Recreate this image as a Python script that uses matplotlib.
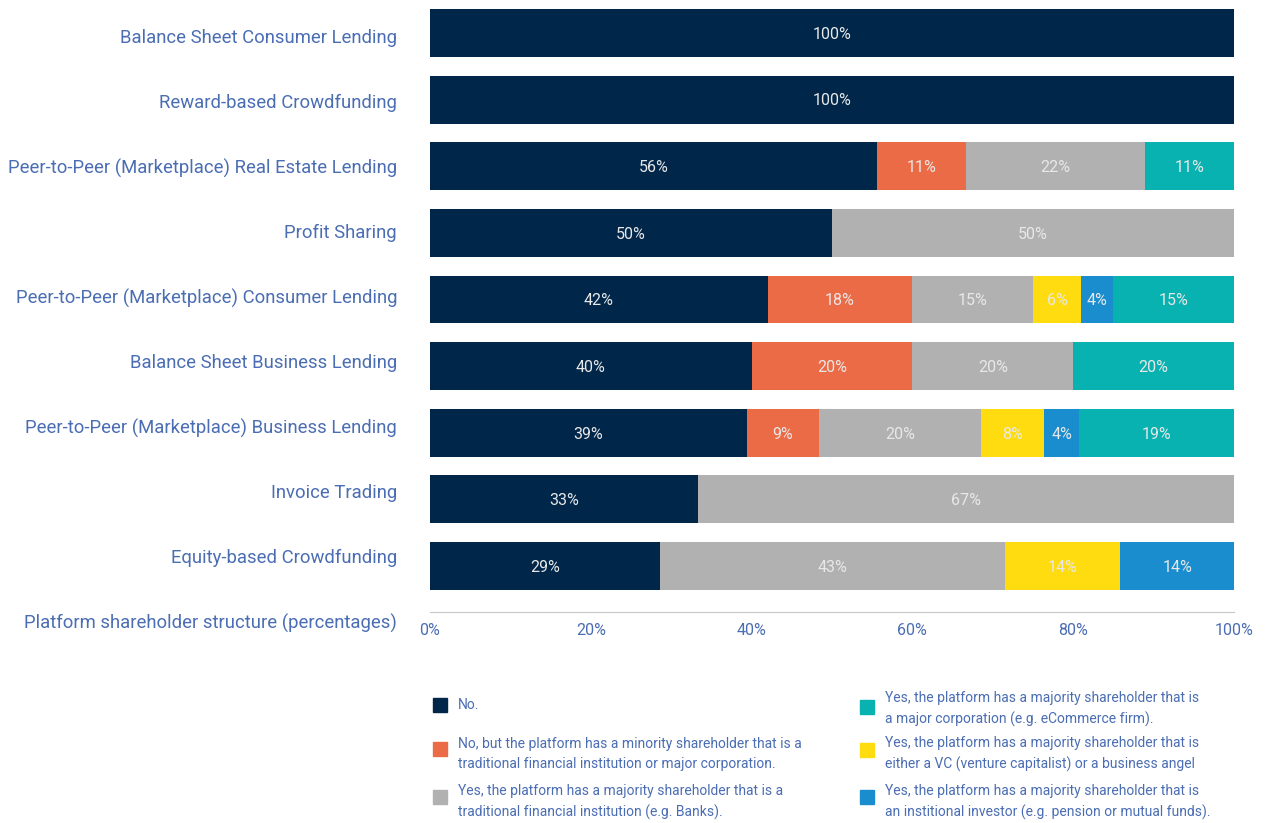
import matplotlib
matplotlib.use("Agg")
import matplotlib.pyplot as plt
from matplotlib.patches import Rectangle
import numpy as np

TXT = "#4a6db3"
COLORS = ["#00264a", "#ec6b47", "#b1b1b1", "#ffdc0f", "#1a8dcf", "#08b2b0"]

categories = [
    "Balance Sheet Consumer Lending",
    "Reward-based Crowdfunding",
    "Peer-to-Peer (Marketplace) Real Estate Lending",
    "Profit Sharing",
    "Peer-to-Peer (Marketplace) Consumer Lending",
    "Balance Sheet Business Lending",
    "Peer-to-Peer (Marketplace) Business Lending",
    "Invoice Trading",
    "Equity-based Crowdfunding",
]

# shares per category, one list per answer
no_share       = [100, 100, 55.6, 50, 42, 40, 39.4, 33.3, 28.6]
minority       = [0, 0, 11.1, 0, 18, 20, 9.0, 0, 0]
major_fin      = [0, 0, 22.2, 50, 15, 20, 20.1, 66.7, 42.9]
vc_angel       = [0, 0, 0, 0, 6, 0, 7.9, 0, 14.3]
institutional  = [0, 0, 0, 0, 4, 0, 4.3, 0, 14.3]
major_corp     = [0, 0, 11.1, 0, 15, 20, 19.3, 0, 0]

series = [no_share, minority, major_fin, vc_angel, institutional, major_corp]

legend_labels = [
    "No.",
    "No, but the platform has a minority shareholder that is a\ntraditional financial institution or major corporation.",
    "Yes, the platform has a majority shareholder that is a\ntraditional financial institution (e.g. Banks).",
    "Yes, the platform has a majority shareholder that is\neither a VC (venture capitalist) or a business angel",
    "Yes, the platform has a majority shareholder that is\nan institional investor (e.g. pension or mutual funds).",
    "Yes, the platform has a majority shareholder that is\na major corporation (e.g. eCommerce firm).",
]

W, H = 1266, 823
fig = plt.figure(figsize=(W / 100, H / 100), dpi=100)
ax = fig.add_axes([430 / W, 1 - 612 / H, 804 / W, 612 / H])

y = np.arange(len(categories))
left = np.zeros(len(categories))
for vals, col in zip(series, COLORS):
    vals = np.array(vals, dtype=float)
    ax.barh(y, vals, left=left, height=0.72, color=col, edgecolor="none")
    for yi, (l, v) in enumerate(zip(left, vals)):
        if v > 0:
            ax.text(l + v / 2, yi + 0.02, f"{v:.0f}%", ha="center", va="center",
                    color="#e8e8e8", fontsize=11.5, family="Roboto")
    left += vals

ax.set_xlim(0, 100)
ax.set_ylim(8.69, -0.495)
for s in ["top", "right", "left"]:
    ax.spines[s].set_visible(False)
ax.spines["bottom"].set_color("#c8c8c8")
ax.set_yticks([])
ax.set_xticks([0, 20, 40, 60, 80, 100])
ax.set_xticklabels(["0%", "20%", "40%", "60%", "80%", "100%"])
ax.tick_params(axis="x", length=0, pad=8, labelcolor=TXT, labelsize=11.5)
for t in ax.get_xticklabels():
    t.set_family("Roboto")

# category labels, right aligned left of the bars (their spacing is a touch
# tighter than the bars', as in the original)
for yi, cat in enumerate(categories + ["Platform shareholder structure (percentages)"]):
    ax.text(-4.1, 0.075 + 0.976 * yi, cat, ha="right", va="center", color=TXT,
            fontsize=13.3, family="Roboto", clip_on=False)

# legend, two columns drawn by hand
sq = 14
legend_pos = [(433, 705), (433, 749), (433, 797), (860, 750), (860, 797), (860, 707)]
text_pos = [(458, 705), (458, 754), (458, 802), (885, 754), (885, 802), (885, 709)]
for (sx, sy), (tx, ty), lab, col in zip(legend_pos, text_pos, legend_labels, COLORS):
    fig.patches.append(Rectangle((sx / W, 1 - (sy + sq / 2) / H), sq / W, sq / H,
                                 transform=fig.transFigure, color=col))
    fig.text(tx / W, 1 - ty / H, lab, ha="left", va="center", color=TXT,
             fontsize=10, family="Roboto", linespacing=1.55)

fig.savefig("out.png", dpi=100)
